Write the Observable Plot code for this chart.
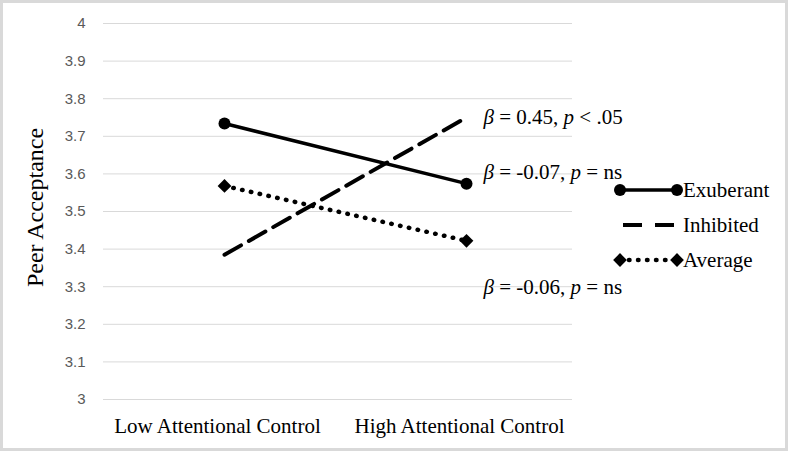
<!DOCTYPE html>
<html>
<head>
<meta charset="utf-8">
<script src="https://cdn.jsdelivr.net/npm/d3@7"></script>
<script src="https://cdn.jsdelivr.net/npm/@observablehq/plot@0.6"></script>
<style>
  html, body { margin: 0; padding: 0; background: #fff; }
  #chart svg { display: block; outline: 3px solid #d9d9d9; outline-offset: -3px; }
</style>
</head>
<body>
<div id="chart"></div>
<script>
const categories = ["Low Attentional Control", "High Attentional Control"];
const seriesNames = ["Exuberant", "Inhibited", "Average"];
const exuberant = [3.734, 3.574];
const inhibited = [3.385, 3.75];
const average = [3.568, 3.422];
const yTicks = [3, 3.1, 3.2, 3.3, 3.4, 3.5, 3.6, 3.7, 3.8, 3.9, 4];
const annotBeta = ["0.45", "-0.07", "-0.06"];
const annotP = ["< .05", "= ns", "= ns"];
const annotY = [3.75, 3.604, 3.298];
const yTitle = "Peer Acceptance";

const toRows = (name, vals) => vals.map((v, i) => ({series: name, x: categories[i], y: v}));
const exRows = toRows("Exuberant", exuberant);
const inRows = toRows("Inhibited", inhibited);
const avRows = toRows("Average", average);
const annots = annotBeta.map((b, i) => ({text: `β = ${b}, p ${annotP[i]}`, y: annotY[i]}));

const serif = "'Liberation Serif', 'Times New Roman', serif";
const diamondR = 6.2;

const chart = Plot.plot({
  width: 788,
  height: 451,
  marginLeft: 103,
  marginRight: 216,
  marginTop: 23,
  marginBottom: 52,
  style: {background: "#fff", overflow: "visible"},
  x: {type: "point", domain: categories, padding: 0, insetLeft: 121, insetRight: 106},
  y: {domain: [3, 4]},
  marks: [
    Plot.ruleY(yTicks, {stroke: "#d9d9d9", strokeWidth: 1}),
    Plot.axisY({ticks: yTicks, tickSize: 0, tickPadding: 18, tickFormat: d => String(+d.toFixed(1)),
      fontSize: 15, fontFamily: "'Liberation Sans', Arial, sans-serif", fill: "#595959", label: null}),
    Plot.axisX({tickSize: 0, tickPadding: 19, fontSize: 21, fontFamily: serif, fill: "#000", dx: -7, label: null}),
    Plot.text([yTitle], {y: () => 3.5, frameAnchor: "left", textAnchor: "middle", dx: -68, dy: -4, rotate: -90, fontSize: 24, fontFamily: serif, fill: "#000"}),
    Plot.line(inRows, {x: "x", y: "y", stroke: "#000", strokeWidth: 4, strokeDasharray: "19,9"}),
    Plot.line(avRows, {x: "x", y: "y", stroke: "#000", strokeWidth: 4.5, strokeDasharray: "0.5,8.5", strokeLinecap: "round"}),
    Plot.line(exRows, {x: "x", y: "y", stroke: "#000", strokeWidth: 3.5}),
    Plot.dot(exRows, {x: "x", y: "y", r: 6, fill: "#000", symbol: "circle"}),
    Plot.dot(avRows, {x: "x", y: "y", r: diamondR, fill: "#000", symbol: "diamond2"}),
    Plot.text(annots, {x: () => categories[1], y: "y", text: "text", dx: 17, textAnchor: "start",
      fontSize: 21, fontFamily: serif, fill: "#000"})
  ]
});

// Italicize β and p in annotations
d3.select(chart).selectAll("text").each(function() {
  const t = d3.select(this).text();
  const m = t.match(/^β = (.*), p (.*)$/);
  if (!m) return;
  const el = d3.select(this);
  el.text(null);
  el.append("tspan").attr("font-style", "italic").text("β");
  el.append("tspan").text(` = ${m[1]}, `);
  el.append("tspan").attr("font-style", "italic").text("p");
  el.append("tspan").text(` ${m[2]}`);
});

// Legend
const legend = d3.select(chart).append("g").attr("font-family", serif).attr("font-size", 21).attr("text-anchor", "start");
const styles = {
  Exuberant: {dash: null, cap: "butt", w: 3.5, marker: "circle"},
  Inhibited: {dash: "19,13", cap: "butt", w: 4, marker: null},
  Average: {dash: "0.5,8.5", cap: "round", w: 4.5, marker: "diamond"}
};
seriesNames.forEach((name, i) => {
  const yy = 190 + i * 35;
  const s = styles[name];
  const g = legend.append("g").attr("transform", `translate(0,${yy})`);
  g.append("line").attr("x1", name === "Inhibited" ? 623 : 620).attr("x2", name === "Inhibited" ? 674 : 677)
    .attr("stroke", "#000").attr("stroke-width", s.w).attr("stroke-dasharray", s.dash).attr("stroke-linecap", s.cap);
  if (s.marker) {
    const sym = s.marker === "circle" ? d3.symbolCircle : d3.symbolDiamond2;
    const size = s.marker === "circle" ? Math.PI * 36 : Math.PI * diamondR * diamondR;
    [620, 677].forEach(px => g.append("path").attr("d", d3.symbol(sym, size)()).attr("transform", `translate(${px},0)`).attr("fill", "#000"));
  }
  g.append("text").attr("x", 683).attr("dy", "0.35em").attr("fill", "#000").text(name);
});

document.getElementById("chart").appendChild(chart);
</script>
</body>
</html>
